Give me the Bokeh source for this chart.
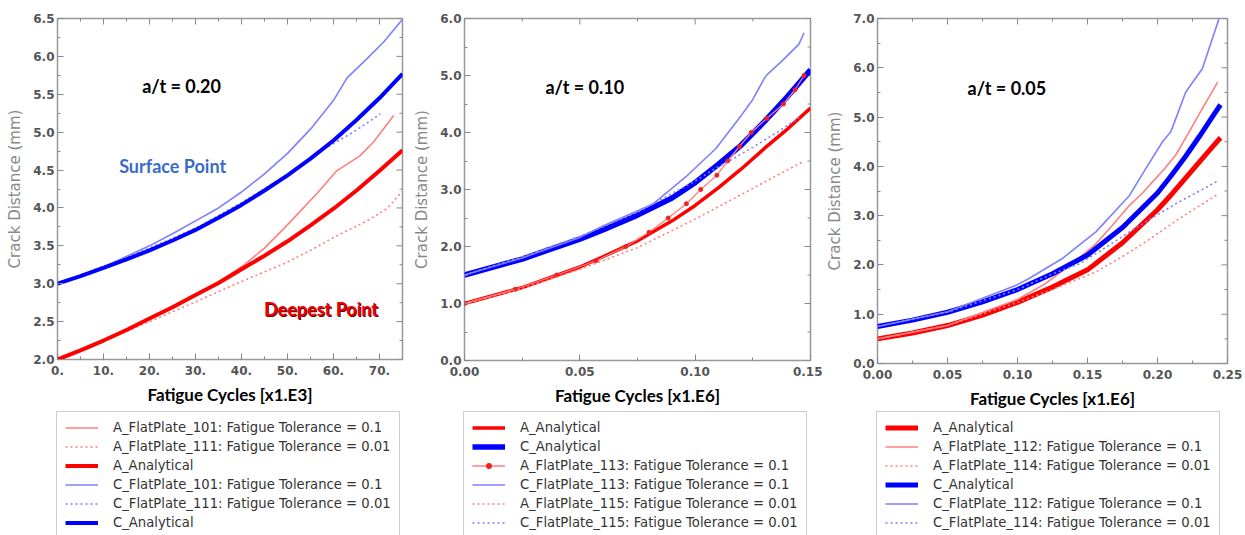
import math
from bokeh.plotting import figure
from bokeh.layouts import row, column
from bokeh.models import (Legend, LegendItem, FixedTicker, Label,
                          PrintfTickFormatter, Range1d)
from bokeh.embed import file_html
from bokeh.resources import INLINE

# ---------------- Panel 1 : a/t = 0.20 (x in 1.E3 cycles) ----------------
p1_x_ana = [0, 5, 10, 15, 20, 25, 30, 35, 40, 45, 50, 55, 60, 65, 70, 75]
p1_A_ana = [2.00, 2.12, 2.25, 2.39, 2.54, 2.69, 2.85, 3.01, 3.19, 3.37, 3.56, 3.77, 3.99, 4.23, 4.49, 4.76]
p1_C_ana = [3.00, 3.10, 3.21, 3.32, 3.44, 3.57, 3.71, 3.87, 4.04, 4.23, 4.43, 4.65, 4.89, 5.16, 5.45, 5.77]

p1_x_A101 = [0, 10, 20, 30, 35, 40.4, 45, 49.1, 56.4, 60.7, 65.8, 68.7, 73.1]
p1_A101 = [2.00, 2.25, 2.54, 2.85, 3.02, 3.24, 3.47, 3.72, 4.19, 4.49, 4.69, 4.87, 5.22]
p1_x_A111 = [0, 10, 20, 30, 40, 49.1, 55, 60, 67.3, 71.6, 75]
p1_A111 = [2.00, 2.24, 2.50, 2.76, 3.03, 3.26, 3.44, 3.61, 3.83, 3.99, 4.22]
p1_x_C101 = [0, 10, 20, 25, 30, 35, 40, 45, 50, 55, 60, 63, 67.3, 70.9, 75]
p1_C101 = [3.00, 3.22, 3.50, 3.66, 3.83, 4.00, 4.21, 4.45, 4.72, 5.04, 5.42, 5.72, 5.97, 6.19, 6.49]
p1_x_C111 = [0, 10, 20, 30, 40, 50, 58.6, 64.3, 70.2]
p1_C111 = [3.00, 3.23, 3.47, 3.73, 4.07, 4.44, 4.80, 5.00, 5.24]

# ---------------- Panel 2 : a/t = 0.10 (x in 1.E6 cycles) ----------------
p2_x_ana = [0, 0.025, 0.05, 0.06, 0.075, 0.09, 0.10, 0.11, 0.12, 0.13, 0.14, 0.15]
p2_A_ana = [1.00, 1.28, 1.64, 1.82, 2.10, 2.45, 2.72, 3.03, 3.36, 3.72, 4.06, 4.43]
p2_C_ana = [1.50, 1.78, 2.13, 2.29, 2.55, 2.85, 3.12, 3.44, 3.78, 4.19, 4.63, 5.10]
p2_x_A113 = [0, 0.022, 0.040, 0.057, 0.070, 0.080, 0.0883, 0.0962, 0.1024, 0.1094,
             0.1141, 0.1191, 0.1243, 0.1311, 0.1383, 0.1433, 0.1472]
p2_A113 = [1.00, 1.25, 1.50, 1.75, 2.00, 2.25, 2.50, 2.75, 3.00, 3.25,
           3.50, 3.75, 4.00, 4.25, 4.50, 4.75, 5.00]
p2_x_C113 = [0, 0.025, 0.05, 0.06, 0.0815, 0.0959, 0.109, 0.12, 0.125, 0.13, 0.1313, 0.1378, 0.145, 0.1472]
p2_C113 = [1.50, 1.80, 2.16, 2.36, 2.74, 3.22, 3.72, 4.30, 4.58, 4.95, 5.02, 5.26, 5.55, 5.75]
p2_x_A115 = [0, 0.025, 0.05, 0.075, 0.10, 0.125, 0.1472]
p2_A115 = [1.00, 1.26, 1.60, 1.98, 2.48, 3.02, 3.50]
p2_x_C115 = [0, 0.025, 0.05, 0.075, 0.10, 0.11, 0.1147, 0.125, 0.135, 0.145]
p2_C115 = [1.50, 1.82, 2.18, 2.60, 3.15, 3.40, 3.50, 3.74, 3.99, 4.26]

# ---------------- Panel 3 : a/t = 0.05 (x in 1.E6 cycles) ----------------
p3_x_ana = [0, 0.025, 0.05, 0.075, 0.10, 0.125, 0.15, 0.175, 0.20, 0.21, 0.22, 0.23, 0.24, 0.245]
p3_A_ana = [0.50, 0.62, 0.77, 0.98, 1.24, 1.55, 1.90, 2.45, 3.12, 3.43, 3.76, 4.09, 4.42, 4.58]
p3_C_ana = [0.75, 0.88, 1.04, 1.25, 1.50, 1.82, 2.20, 2.76, 3.46, 3.82, 4.20, 4.61, 5.04, 5.25]
p3_x_A112 = [0, 0.05, 0.10, 0.12, 0.14, 0.155, 0.168, 0.18, 0.189, 0.1976, 0.205, 0.213, 0.2226, 0.232, 0.243]
p3_A112 = [0.50, 0.77, 1.30, 1.62, 2.05, 2.40, 2.81, 3.21, 3.45, 3.72, 3.95, 4.23, 4.70, 5.17, 5.71]
p3_x_A114 = [0, 0.05, 0.10, 0.125, 0.156, 0.175, 0.1917, 0.2155, 0.23, 0.244]
p3_A114 = [0.50, 0.77, 1.24, 1.50, 1.86, 2.17, 2.47, 2.94, 3.20, 3.45]
p3_x_C112 = [0, 0.05, 0.10, 0.108, 0.132, 0.156, 0.18, 0.1917, 0.2036, 0.2095, 0.2202, 0.232, 0.244]
p3_C112 = [0.75, 1.05, 1.60, 1.72, 2.13, 2.67, 3.41, 3.96, 4.50, 4.70, 5.51, 5.98, 7.00]
p3_x_C114 = [0, 0.05, 0.10, 0.125, 0.144, 0.16, 0.18, 0.20, 0.2155, 0.23, 0.244]
p3_C114 = [0.75, 1.04, 1.50, 1.82, 2.02, 2.30, 2.67, 3.02, 3.28, 3.50, 3.72]

# ticks
p1_xticks = [0, 10, 20, 30, 40, 50, 60, 70]
p1_xminor = [5, 15, 25, 35, 45, 55, 65, 75]
p1_xlabels = ["0.", "10.", "20.", "30.", "40.", "50.", "60.", "70."]
p1_yticks = [2.0, 2.5, 3.0, 3.5, 4.0, 4.5, 5.0, 5.5, 6.0, 6.5]
p1_yminor = [2.25, 2.75, 3.25, 3.75, 4.25, 4.75, 5.25, 5.75, 6.25]
p2_xticks = [0.0, 0.05, 0.10, 0.15]
p2_xminor = [0.025, 0.075, 0.125]
p2_yticks = [0, 1, 2, 3, 4, 5, 6]
p2_yminor = [0.5, 1.5, 2.5, 3.5, 4.5, 5.5]
p3_xticks = [0.0, 0.05, 0.10, 0.15, 0.20, 0.25]
p3_xminor = [0.025, 0.075, 0.125, 0.175, 0.225]
p3_yticks = [0, 1, 2, 3, 4, 5, 6, 7]
p3_yminor = [0.5, 1.5, 2.5, 3.5, 4.5, 5.5, 6.5]

RED = "#ff0000"
BLUE = "#0000ff"
LRED = "#ff7f7f"
LBLUE = "#7f7fff"
BOLD_FONT = "Lato"
TICK = "#888888"

PLOT_H = 410
LEG_H = 125
TOTAL_W = 1245


def make_fig(xr, yr, fw, fh, bl, br, bt, xticks, yticks, xminor, yminor, xlabel):
    p = figure(frame_width=fw, frame_height=fh, x_range=Range1d(*xr), y_range=Range1d(*yr),
               output_backend="svg", toolbar_location=None, tools="",
               min_border_left=bl, min_border_right=br, min_border_top=bt,
               min_border_bottom=PLOT_H - bt - fh)
    p.xgrid.visible = False
    p.ygrid.visible = False
    p.outline_line_color = "#999999"
    p.outline_line_width = 1.5
    p.background_fill_color = "white"
    p.border_fill_color = "white"
    xax = p.xaxis[0]
    yax = p.yaxis[0]
    xax.ticker = FixedTicker(ticks=xticks, minor_ticks=xminor)
    yax.ticker = FixedTicker(ticks=yticks, minor_ticks=yminor)
    for ax in [xax, yax]:
        ax.axis_line_color = None
        ax.major_tick_in = 6
        ax.major_tick_out = 0
        ax.minor_tick_in = 3
        ax.minor_tick_out = 0
        ax.major_tick_line_color = TICK
        ax.minor_tick_line_color = TICK
        ax.major_label_text_font = "DejaVu Sans"
        ax.major_label_text_font_style = "bold"
        ax.major_label_text_font_size = "12px"
        ax.major_label_text_color = "#555555"
    xax.major_label_standoff = 6
    yax.major_label_standoff = 3
    xax.axis_label = xlabel
    xax.axis_label_text_font = BOLD_FONT
    xax.axis_label_text_font_style = "bold"
    xax.axis_label_text_font_size = "17px"
    xax.axis_label_text_color = "black"
    xax.axis_label_standoff = 6
    yax.axis_label = "Crack Distance (mm)"
    yax.axis_label_text_font = "DejaVu Sans"
    yax.axis_label_text_font_style = "normal"
    yax.axis_label_text_font_size = "15px"
    yax.axis_label_text_color = "#888888"
    yax.axis_label_standoff = 6
    # ticks on the top and right edges (inward), clipped by the frame
    p.scatter(xticks, [yr[1]] * len(xticks), marker="dash", angle=math.pi / 2, size=12, line_color=TICK)
    p.scatter(xminor, [yr[1]] * len(xminor), marker="dash", angle=math.pi / 2, size=6, line_color=TICK)
    p.scatter([xr[1]] * len(yticks), yticks, marker="dash", size=12, line_color=TICK)
    p.scatter([xr[1]] * len(yminor), yminor, marker="dash", size=6, line_color=TICK)
    return p, xax, yax


# one strip below the three charts that carries the three legends
lf = figure(width=TOTAL_W, height=LEG_H, output_backend="svg", toolbar_location=None, tools="",
            x_axis_type=None, y_axis_type=None, min_border=0,
            min_border_left=0, min_border_right=0, min_border_top=0, min_border_bottom=0,
            x_range=Range1d(0, 1), y_range=Range1d(0, 1))
lf.outline_line_color = None
lf.xgrid.visible = False
lf.ygrid.visible = False

ROW_H = 15
LEG_PAD = 8
LEG_SP = 4


def add_legend(entries, left):
    """entries: list of (label, style dict, with_markers); proxies lie outside the strip's ranges"""
    items = []
    for label, style, markers in entries:
        rs = [lf.line([-5, -4], [-5, -4], **style)]
        if markers:
            rs.append(lf.scatter([-5, -4], [-5, -4], size=4, fill_color="#ee2222", line_color="#ee2222"))
        items.append(LegendItem(label=label, renderers=rs))
    n = len(entries)
    h = 2 * LEG_PAD + n * ROW_H + (n - 1) * LEG_SP
    leg = Legend(items=items, location=(left, LEG_H - 3 - h), margin=0, padding=LEG_PAD, spacing=LEG_SP,
                 label_height=13, glyph_height=13, glyph_width=33, label_standoff=15,
                 label_text_font="DejaVu Sans", label_text_font_size="13.2px",
                 label_text_color="#333333", border_line_color="#999999",
                 border_line_width=1.5, background_fill_color="white", background_fill_alpha=1.0)
    lf.add_layout(leg, "center")


def title_label(p, x, y, text, color="black", size="18px"):
    p.add_layout(Label(x=x, y=y, text=text, text_font=BOLD_FONT, text_font_style="bold",
                       text_font_size=size, text_color=color, text_baseline="middle",
                       text_align="left"))


S_A_ANA = dict(line_color=RED, line_width=4)
S_C_ANA = dict(line_color=BLUE, line_width=4)
S_A_TOL1 = dict(line_color=LRED, line_width=1.6)
S_C_TOL1 = dict(line_color=LBLUE, line_width=1.6)
S_A_TOL01 = dict(line_color=LRED, line_width=1.6, line_dash="2 3")
S_C_TOL01 = dict(line_color=LBLUE, line_width=1.6, line_dash="2 3")

# ---------------- Figure 1 ----------------
p1, x1ax, y1ax = make_fig((0, 75), (2.0, 6.5), 345, 341, 57, 8, 18, p1_xticks, p1_yticks,
                          p1_xminor, p1_yminor, "Fatigue Cycles [x1.E3]")
x1ax.major_label_overrides = {t: s for t, s in zip(p1_xticks, p1_xlabels)}
y1ax.formatter = PrintfTickFormatter(format="%.1f")

p1.line(p1_x_A101, p1_A101, **S_A_TOL1)
p1.line(p1_x_A111, p1_A111, **S_A_TOL01)
p1.line(p1_x_ana, p1_A_ana, **S_A_ANA)
p1.line(p1_x_C101, p1_C101, **S_C_TOL1)
p1.line(p1_x_C111, p1_C111, **S_C_TOL01)
p1.line(p1_x_ana, p1_C_ana, **S_C_ANA)
title_label(p1, 18.4, 5.61, "a/t = 0.20")
title_label(p1, 13.4, 4.55, "Surface Point", color="#3a6bc5")
p1.add_layout(Label(x=44.9, y=2.67, x_offset=1, y_offset=-1, text="Deepest Point", text_font=BOLD_FONT,
                    text_font_style="bold", text_font_size="18px", text_color="#5a0000",
                    text_baseline="middle", text_align="left"))
title_label(p1, 44.9, 2.67, "Deepest Point", color="#ee0000")
add_legend([("A_FlatPlate_101: Fatigue Tolerance = 0.1", S_A_TOL1, False),
            ("A_FlatPlate_111: Fatigue Tolerance = 0.01", S_A_TOL01, False),
            ("A_Analytical", S_A_ANA, False),
            ("C_FlatPlate_101: Fatigue Tolerance = 0.1", S_C_TOL1, False),
            ("C_FlatPlate_111: Fatigue Tolerance = 0.01", S_C_TOL01, False),
            ("C_Analytical", S_C_ANA, False)], 56)

# ---------------- Figure 2 ----------------
p2, x2ax, y2ax = make_fig((0, 0.15), (0, 6.0), 346, 342, 52, 12, 16, p2_xticks, p2_yticks,
                          p2_xminor, p2_yminor, "Fatigue Cycles [x1.E6]")
x2ax.formatter = PrintfTickFormatter(format="%.2f")
y2ax.formatter = PrintfTickFormatter(format="%.1f")

S2_A_ANA = dict(line_color=RED, line_width=3.5)
S2_C_ANA = dict(line_color=BLUE, line_width=5.5)
S2_A113 = dict(line_color=LRED, line_width=1.3)
p2.line(p2_x_ana, p2_A_ana, **S2_A_ANA)
p2.line(p2_x_ana, p2_C_ana, **S2_C_ANA)
p2.line(p2_x_A113, p2_A113, **S2_A113)
p2.scatter(p2_x_A113, p2_A113, size=4, fill_color="#ee2222", line_color="#ee2222")
p2.line(p2_x_C113, p2_C113, **S_C_TOL1)
p2.line(p2_x_A115, p2_A115, **S_A_TOL01)
p2.line(p2_x_C115, p2_C115, **S_C_TOL01)
title_label(p2, 0.0351, 4.79, "a/t = 0.10")
add_legend([("A_Analytical", S2_A_ANA, False),
            ("C_Analytical", S2_C_ANA, False),
            ("A_FlatPlate_113: Fatigue Tolerance = 0.1", S2_A113, True),
            ("C_FlatPlate_113: Fatigue Tolerance = 0.1", S_C_TOL1, False),
            ("A_FlatPlate_115: Fatigue Tolerance = 0.01", S_A_TOL01, False),
            ("C_FlatPlate_115: Fatigue Tolerance = 0.01", S_C_TOL01, False)], 463)

# ---------------- Figure 3 ----------------
p3, x3ax, y3ax = make_fig((0, 0.25), (0, 7.0), 350, 345, 55, 20, 15, p3_xticks, p3_yticks,
                          p3_xminor, p3_yminor, "Fatigue Cycles [x1.E6]")
x3ax.formatter = PrintfTickFormatter(format="%.2f")
y3ax.formatter = PrintfTickFormatter(format="%.1f")

S3_A_ANA = dict(line_color=RED, line_width=5)
S3_C_ANA = dict(line_color=BLUE, line_width=5)
p3.line(p3_x_ana, p3_A_ana, **S3_A_ANA)
p3.line(p3_x_A112, p3_A112, **S_A_TOL1)
p3.line(p3_x_A114, p3_A114, **S_A_TOL01)
p3.line(p3_x_ana, p3_C_ana, **S3_C_ANA)
p3.line(p3_x_C112, p3_C112, **S_C_TOL1)
p3.line(p3_x_C114, p3_C114, **S_C_TOL01)
title_label(p3, 0.0643, 5.58, "a/t = 0.05")
add_legend([("A_Analytical", S3_A_ANA, False),
            ("A_FlatPlate_112: Fatigue Tolerance = 0.1", S_A_TOL1, False),
            ("A_FlatPlate_114: Fatigue Tolerance = 0.01", S_A_TOL01, False),
            ("C_Analytical", S3_C_ANA, False),
            ("C_FlatPlate_112: Fatigue Tolerance = 0.1", S_C_TOL1, False),
            ("C_FlatPlate_114: Fatigue Tolerance = 0.01", S_C_TOL01, False)], 876)

layout = column(row(p1, p2, p3, spacing=0), lf, spacing=0)
open("out.html", "w").write(file_html(layout, INLINE))
